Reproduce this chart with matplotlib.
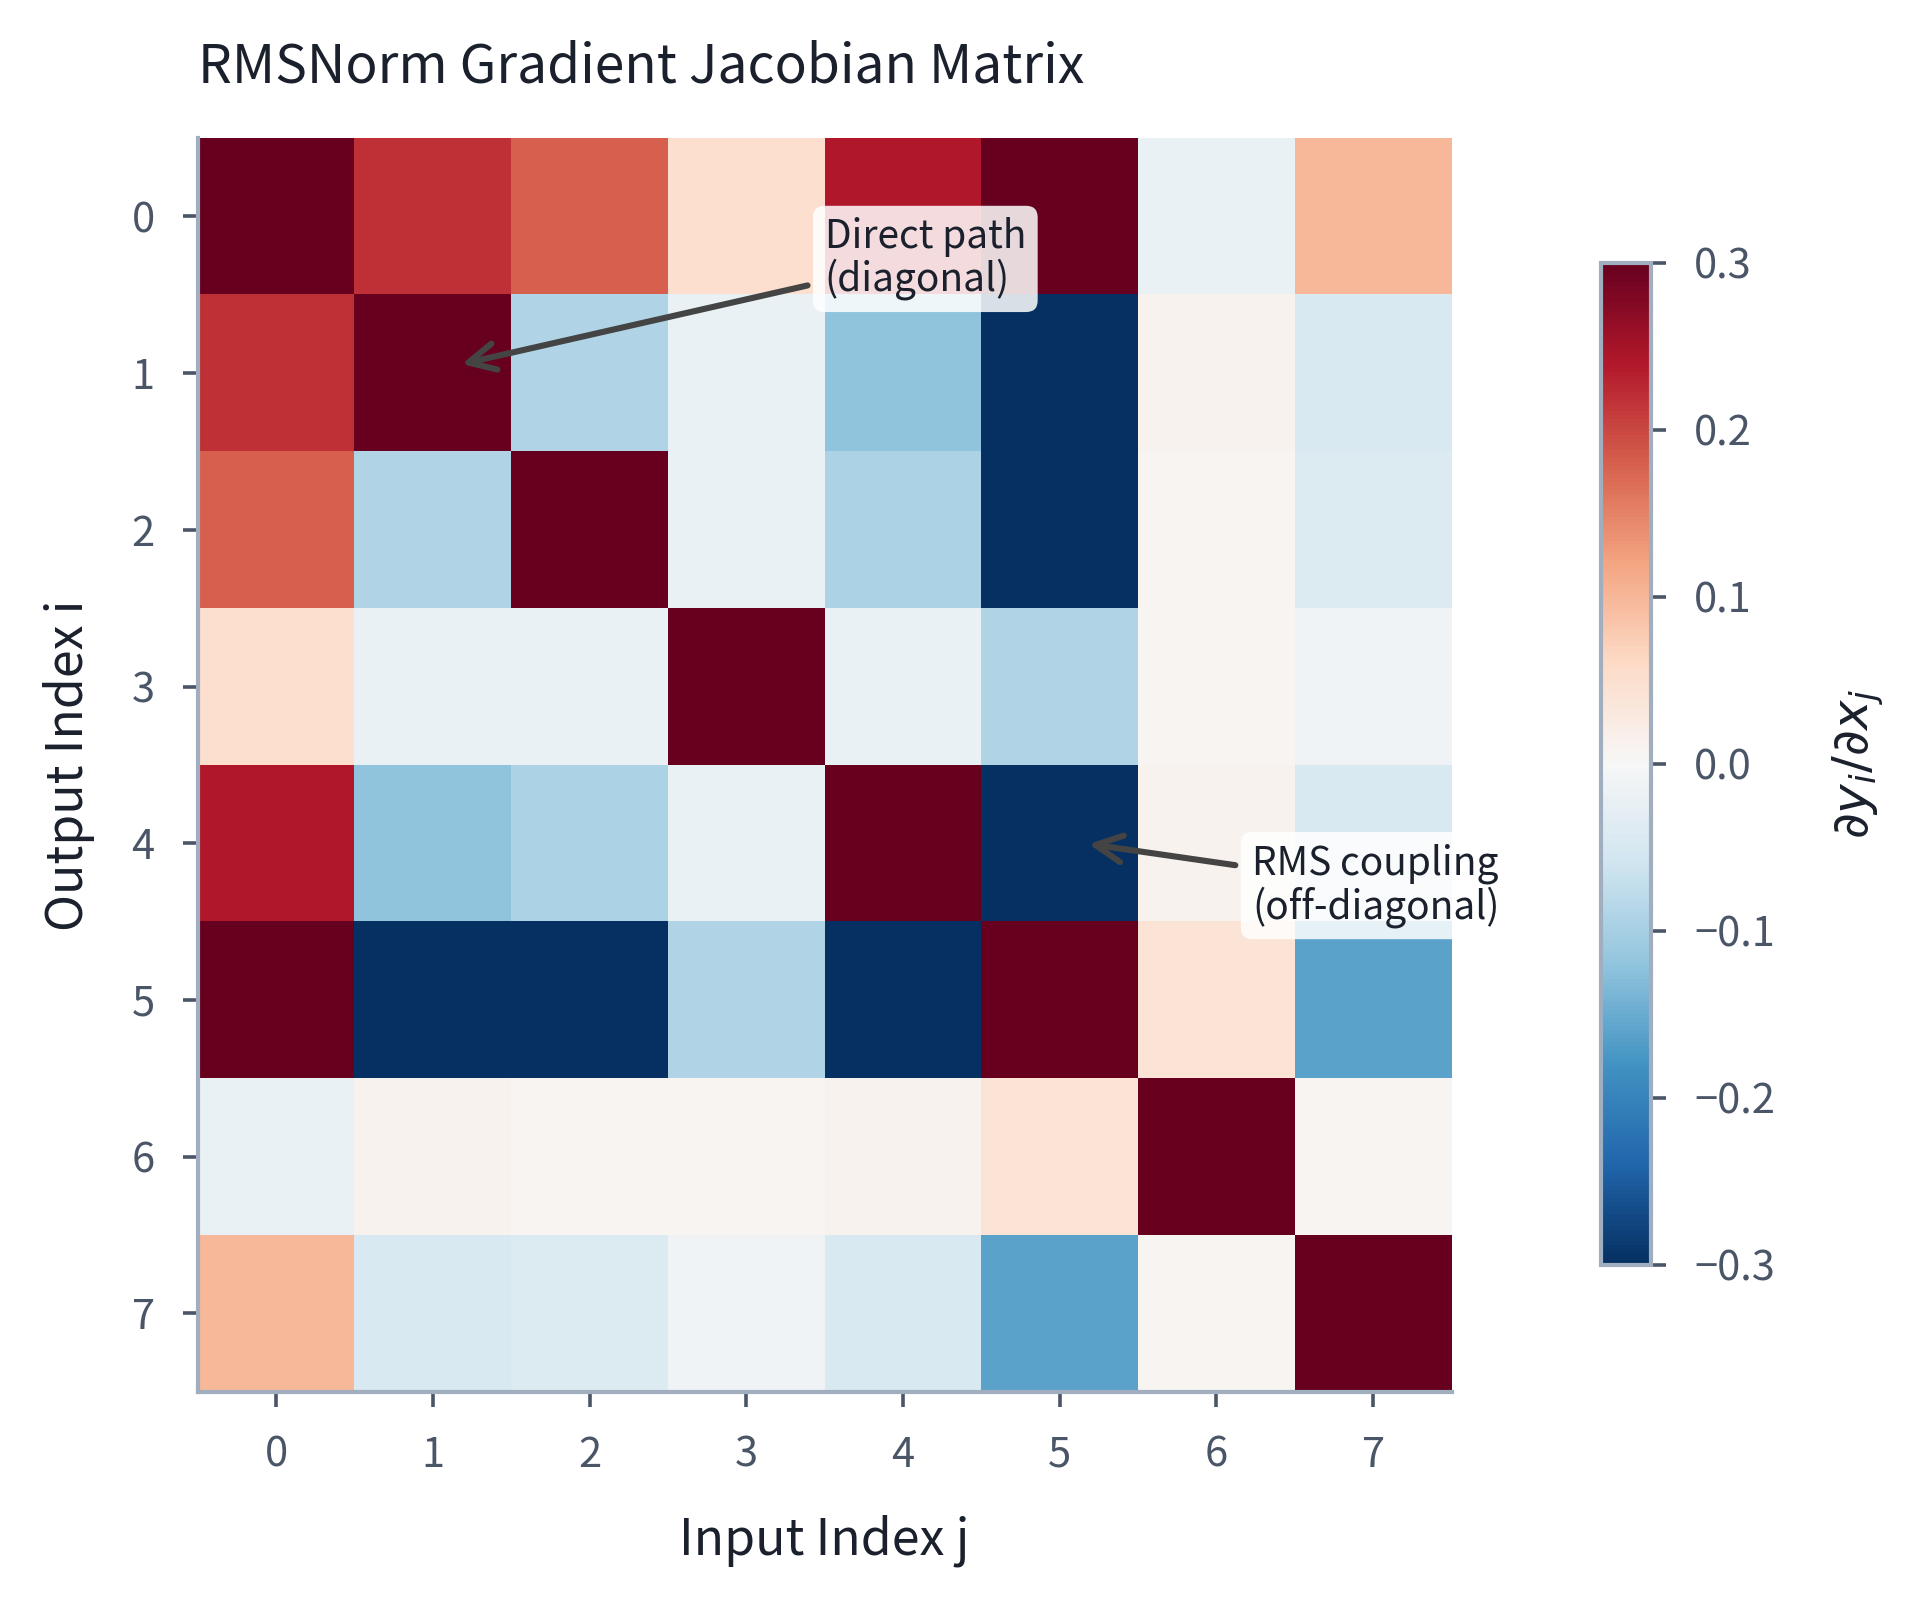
import matplotlib.pyplot as plt
import numpy as np

plt.rcParams['font.family'] = ['Noto Sans CJK KR', 'DejaVu Sans']

# Jacobian values (diagonal saturates above 0.3)
idx = list(range(8))
row0 = [0.60, 0.22, 0.18, 0.05, 0.24, 0.40, -0.02, 0.10]
row1 = [0.22, 0.55, -0.09, -0.02, -0.12, -0.35, 0.01, -0.045]
row2 = [0.18, -0.09, 0.55, -0.02, -0.095, -0.35, 0.005, -0.04]
row3 = [0.05, -0.02, -0.02, 0.60, -0.02, -0.09, 0.005, -0.01]
row4 = [0.24, -0.12, -0.095, -0.02, 0.55, -0.35, 0.01, -0.045]
row5 = [0.40, -0.35, -0.35, -0.09, -0.35, 0.50, 0.04, -0.16]
row6 = [-0.02, 0.01, 0.005, 0.005, 0.01, 0.04, 0.60, 0.005]
row7 = [0.10, -0.045, -0.04, -0.01, -0.045, -0.16, 0.005, 0.60]
jac = np.array([row0, row1, row2, row3, row4, row5, row6, row7])

text_c = '#1a202c'
tick_c = '#4a5568'
spine_c = '#a0aec0'

fig = plt.figure(figsize=(9.6, 8.005), dpi=200)
ax = fig.add_axes([0.103, 0.1305, 0.653, 0.7835])
cax = fig.add_axes([0.834, 0.21, 0.026, 0.626])

im = ax.imshow(jac, cmap='RdBu_r', vmin=-0.3, vmax=0.3, aspect='equal')

ax.set_xticks(idx)
ax.set_yticks(idx)
ax.tick_params(colors=tick_c, labelsize=15, length=5.5, width=1.3, pad=10)
for s in ['top', 'right']:
    ax.spines[s].set_visible(False)
for s in ['left', 'bottom']:
    ax.spines[s].set_color(spine_c)
    ax.spines[s].set_linewidth(1.5)

ax.set_xlabel('Input Index j', fontsize=18, color=text_c, labelpad=14)
ax.set_ylabel('Output Index i', fontsize=18, color=text_c, labelpad=13)
ax.set_title('RMSNorm Gradient Jacobian Matrix', fontsize=19.2, color=text_c,
             loc='left', pad=20)

box = dict(boxstyle='round,pad=0.3', fc='white', ec='none', alpha=0.85)
arrow = dict(arrowstyle='->', color='#444444', lw=2.2, mutation_scale=24)
ax.annotate('Direct path\n(diagonal)', xy=(1.15, 0.95), xytext=(3.5, 0.27),
            fontsize=14, color=text_c, va='center', ha='left',
            bbox=box, arrowprops=arrow, linespacing=1.05)
ax.annotate('RMS coupling\n(off-diagonal)', xy=(5.15, 4.0), xytext=(6.23, 4.27),
            fontsize=14, color=text_c, va='center', ha='left',
            bbox=box, arrowprops=arrow, linespacing=1.05,
            annotation_clip=False)

cb = fig.colorbar(im, cax=cax, ticks=[-0.3, -0.2, -0.1, 0.0, 0.1, 0.2, 0.3])
cb.outline.set_edgecolor(spine_c)
cb.outline.set_linewidth(1.5)
cb.ax.tick_params(colors=tick_c, labelsize=15, length=5.5, width=1.3, pad=10)
cb.ax.set_yticklabels(['\u22120.3', '\u22120.2', '\u22120.1', '0.0', '0.1', '0.2', '0.3'])
cb.set_label(r'$\partial y_i/\partial x_j$', fontsize=18, color=text_c, labelpad=20)

fig.savefig('out.png', dpi=200)
